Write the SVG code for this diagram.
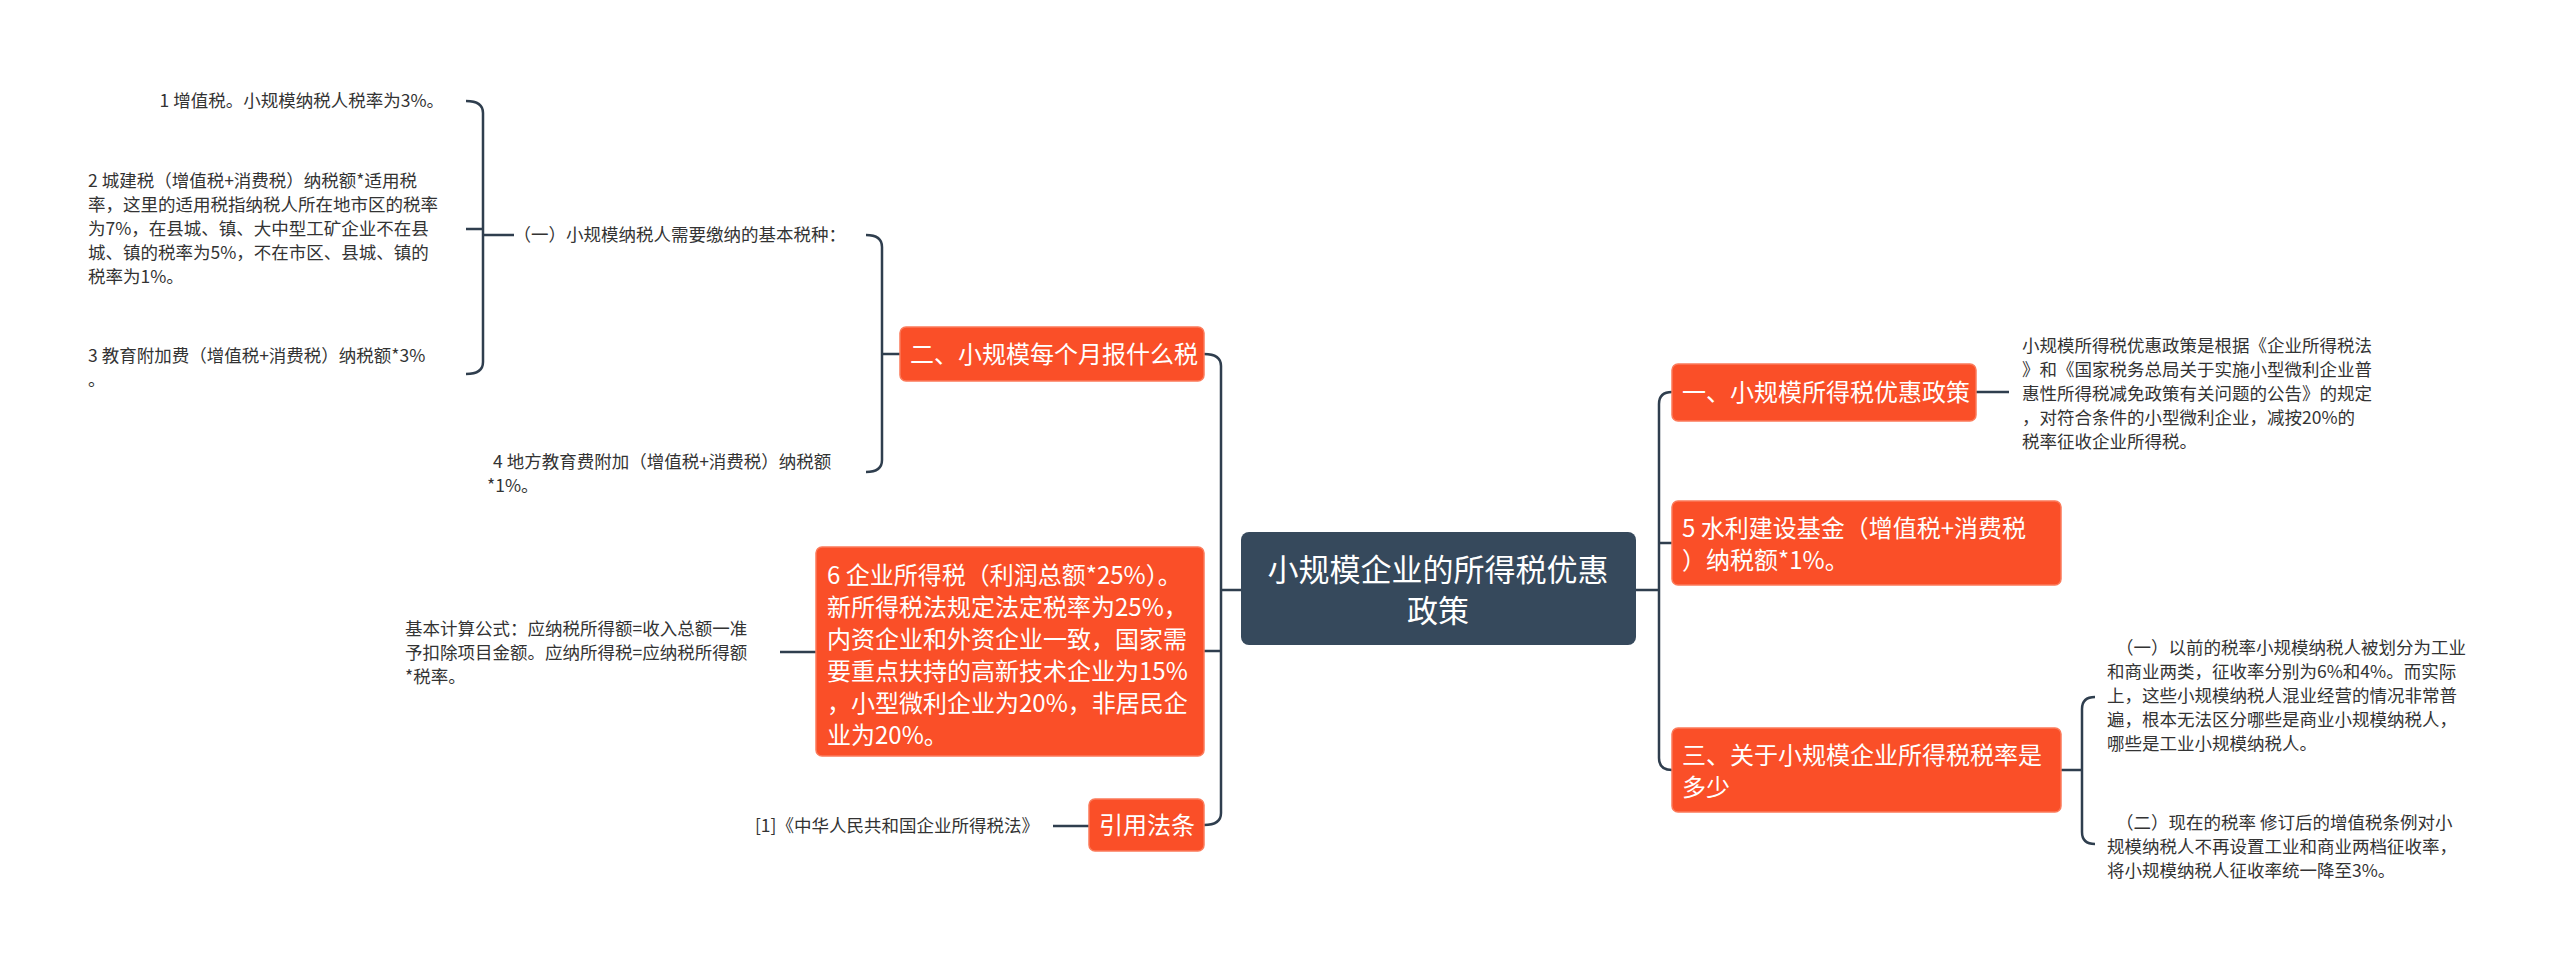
<svg xmlns="http://www.w3.org/2000/svg" width="2560" height="969" viewBox="0 0 2560 969">
<style>
.n{fill:#fa4f28;stroke:#fb7a5a;stroke-width:1.5}
.w{fill:#fff;font-family:"Noto Sans CJK SC",sans-serif;font-size:24px}
.t{fill:#333;font-family:"Noto Sans CJK SC",sans-serif;font-size:17.5px}
.c{fill:none;stroke:#2f3e4e;stroke-width:2.5}
</style>
<rect width="2560" height="969" fill="#fff"/>
<g id="connectors" class="c">
<path d="M1241 590H1221M1204 354Q1221 354 1221 366V813Q1221 825 1204 825M1221 651H1204"/>
<path d="M1636 590H1659M1672 392Q1659 392 1659 404V758Q1659 770 1672 770M1659 543H1672"/>
<path d="M900 354H882M866 235Q882 235 882 247V460Q882 472 866 472"/>
<path d="M514 235H483M466 101Q483 101 483 113V362Q483 374 466 374M483 229H466"/>
<path d="M2061 770H2082M2095 697Q2082 697 2082 709V832Q2082 844 2095 844"/>
<path d="M1976 392H2009M816 652H780M1089 826H1053"/>
</g>
<g id="center"><rect x="1241" y="532" width="395" height="113" rx="8" fill="#36495c"/>
<text class="w" style="font-size:31px" text-anchor="middle"><tspan x="1438" y="581">小规模企业的所得税优惠</tspan><tspan x="1438" y="622">政策</tspan></text></g>
<g id="n2"><rect class="n" x="900" y="327" width="304" height="54" rx="6"/><text class="w" x="910" y="363">二、小规模每个月报什么税</text></g>
<g id="n6"><rect class="n" x="816" y="547" width="388" height="209" rx="6"/><text class="w"><tspan x="827" y="584">6 企业所得税（利润总额*25%）。</tspan><tspan x="827" y="616">新所得税法规定法定税率为25%，</tspan><tspan x="827" y="648">内资企业和外资企业一致，国家需</tspan><tspan x="827" y="680">要重点扶持的高新技术企业为15%</tspan><tspan x="827" y="712">，小型微利企业为20%，非居民企</tspan><tspan x="827" y="744">业为20%。</tspan></text></g>
<g id="nref"><rect class="n" x="1089" y="799" width="115" height="52" rx="6"/><text class="w" x="1099" y="834">引用法条</text></g>
<g id="n1"><rect class="n" x="1672" y="364" width="304" height="57" rx="6"/><text class="w" x="1682" y="401">一、小规模所得税优惠政策</text></g>
<g id="n5"><rect class="n" x="1672" y="501" width="389" height="84" rx="6"/><text class="w"><tspan x="1682" y="537">5 水利建设基金（增值税+消费税</tspan><tspan x="1682" y="569">）纳税额*1%。</tspan></text></g>
<g id="n3"><rect class="n" x="1672" y="728" width="389" height="84" rx="6"/><text class="w"><tspan x="1682" y="764">三、关于小规模企业所得税税率是</tspan><tspan x="1682" y="796">多少</tspan></text></g>
<g id="t1a"><text class="t" x="444" y="107" text-anchor="end">1 增值税。小规模纳税人税率为3%。</text></g>
<g id="t1b"><text class="t"><tspan x="88" y="187">2 城建税（增值税+消费税）纳税额*适用税</tspan><tspan x="88" y="211">率，这里的适用税指纳税人所在地市区的税率</tspan><tspan x="88" y="235">为7%，在县城、镇、大中型工矿企业不在县</tspan><tspan x="88" y="259">城、镇的税率为5%，不在市区、县城、镇的</tspan><tspan x="88" y="283">税率为1%。</tspan></text></g>
<g id="t1c"><text class="t"><tspan x="88" y="362">3 教育附加费（增值税+消费税）纳税额*3%</tspan><tspan x="88" y="386">。</tspan></text></g>
<g id="ty"><text class="t" x="846" y="241" text-anchor="end">（一）小规模纳税人需要缴纳的基本税种：</text></g>
<g id="t4"><text class="t"><tspan x="493" y="468">4 地方教育费附加（增值税+消费税）纳税额</tspan><tspan x="487" y="492">*1%。</tspan></text></g>
<g id="tf"><text class="t"><tspan x="405" y="635">基本计算公式：应纳税所得额=收入总额一准</tspan><tspan x="405" y="659">予扣除项目金额。应纳所得税=应纳税所得额</tspan><tspan x="405" y="683">*税率。</tspan></text></g>
<g id="tr"><text class="t" x="1039" y="832" text-anchor="end">[1]《中华人民共和国企业所得税法》</text></g>
<g id="tp"><text class="t"><tspan x="2022" y="352">小规模所得税优惠政策是根据《企业所得税法</tspan><tspan x="2022" y="376">》和《国家税务总局关于实施小型微利企业普</tspan><tspan x="2022" y="400">惠性所得税减免政策有关问题的公告》的规定</tspan><tspan x="2022" y="424">，对符合条件的小型微利企业，减按20%的</tspan><tspan x="2022" y="448">税率征收企业所得税。</tspan></text></g>
<g id="ta"><text class="t"><tspan x="2116" y="654">（一）以前的税率小规模纳税人被划分为工业</tspan><tspan x="2107" y="678">和商业两类，征收率分别为6%和4%。而实际</tspan><tspan x="2107" y="702">上，这些小规模纳税人混业经营的情况非常普</tspan><tspan x="2107" y="726">遍，根本无法区分哪些是商业小规模纳税人，</tspan><tspan x="2107" y="750">哪些是工业小规模纳税人。</tspan></text></g>
<g id="tb"><text class="t"><tspan x="2116" y="829">（二）现在的税率 修订后的增值税条例对小</tspan><tspan x="2107" y="853">规模纳税人不再设置工业和商业两档征收率，</tspan><tspan x="2107" y="877">将小规模纳税人征收率统一降至3%。</tspan></text></g>
</svg>
